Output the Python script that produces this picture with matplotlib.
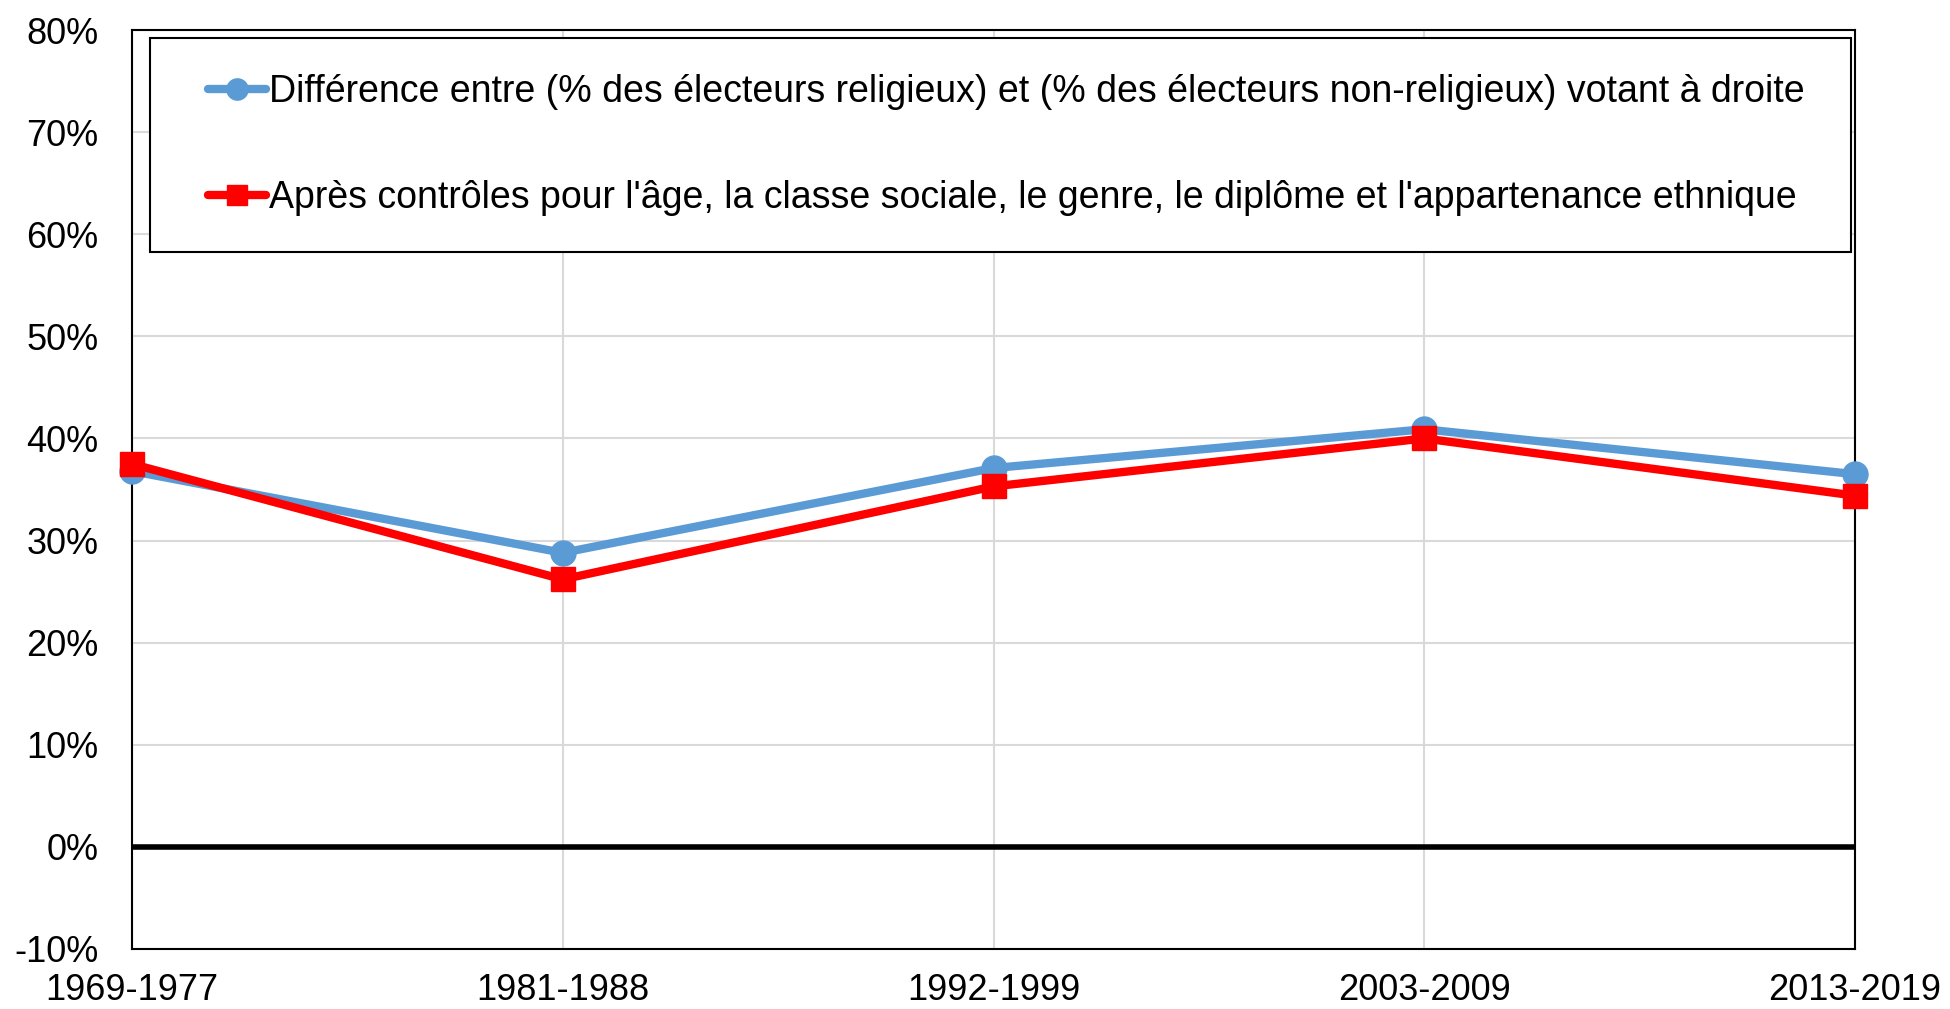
import numpy as np
import matplotlib.pyplot as plt
from matplotlib.patches import Rectangle
from matplotlib.ticker import PercentFormatter

plt.rcParams['font.family'] = ['Liberation Sans', 'DejaVu Sans']
plt.rcParams['axes.unicode_minus'] = False

# Données
periodes = ["1969-1977", "1981-1988", "1992-1999", "2003-2009", "2013-2019"]
ecart_brut = [36.8, 28.8, 37.1, 40.9, 36.5]
ecart_controle = [37.5, 26.2, 35.3, 40.0, 34.4]

label_brut = "Différence entre (% des électeurs religieux) et (% des électeurs non-religieux) votant à droite"
label_controle = "Après contrôles pour l'âge, la classe sociale, le genre, le diplôme et l'appartenance ethnique"

fig = plt.figure(figsize=(19.5, 10.09), dpi=100)
ax = fig.add_axes([132 / 1950, 1 - 949 / 1009, (1855 - 132) / 1950, (949 - 30) / 1009])

x = np.arange(len(periodes))
ax.plot(x, ecart_brut, color='#5b9bd5', lw=6, marker='o', markersize=18,
        label=label_brut, zorder=4, clip_on=False, solid_capstyle='round')
ax.plot(x, ecart_controle, color='#ff0000', lw=6, marker='s', markersize=17,
        label=label_controle, zorder=5, clip_on=False, solid_capstyle='round')

ax.axhline(0, color='black', lw=4, zorder=3)

ax.set_xlim(0, len(periodes) - 1)
ax.set_ylim(-10, 80)
ax.set_yticks(np.arange(-10, 81, 10))
ax.yaxis.set_major_formatter(PercentFormatter(decimals=0))
ax.set_xticks(x)
ax.set_xticklabels(periodes)
ax.tick_params(axis='both', length=0, labelsize=26)
ax.tick_params(axis='y', pad=24)
ax.tick_params(axis='x', pad=17)

ax.grid(True, color='#d9d9d9', lw=1.5, zorder=0)
ax.set_axisbelow(True)
for s in ax.spines.values():
    s.set_color('black')
    s.set_linewidth(1.5)

# cadre de la légende
ax.add_patch(Rectangle((150 / 1950, 1 - 252 / 1009), (1851 - 150) / 1950, (252 - 38) / 1009,
                       transform=fig.transFigure, facecolor='white', edgecolor='black',
                       lw=1.5, zorder=6, clip_on=False))

leg = ax.legend(loc='center left', bbox_to_anchor=(208 / 1950, 1 - 145 / 1009),
                bbox_transform=fig.transFigure, frameon=False, fontsize=27,
                handlelength=1.55, handletextpad=0.08, labelspacing=1.85,
                borderpad=0, borderaxespad=0, markerscale=0.85)
leg.set_zorder(7)

fig.savefig("out.png", dpi=100)
